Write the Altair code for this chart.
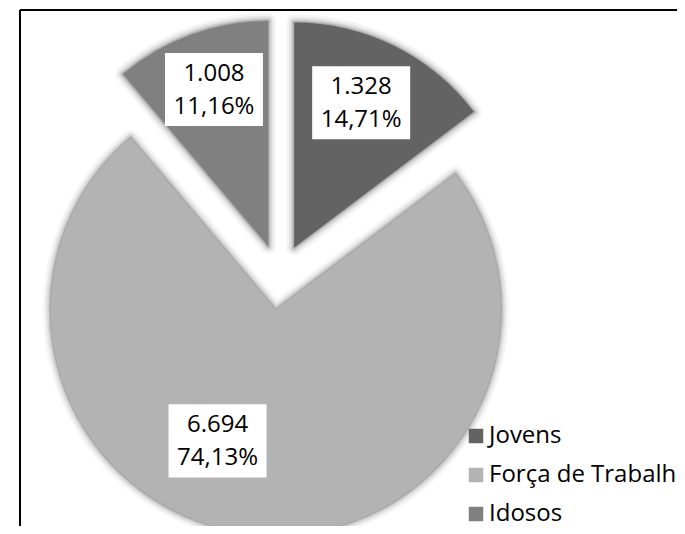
import altair as alt
import pandas as pd

# ---- data ----
categories = ["Jovens", "Força de Trabalho", "Idosos"]
values = [1328, 6694, 1008]
colors = ["#636363", "#b3b3b3", "#808080"]

total = sum(values)


def fmt_int(v):
    return f"{v:,}".replace(",", ".")


def fmt_pct(v):
    return f"{v / total * 100:.2f}".replace(".", ",") + "%"


labels = [f"{fmt_int(v)}\n{fmt_pct(v)}" for v in values]

df = pd.DataFrame({"cat": categories, "value": values,
                   "idx": list(range(len(values))), "label": labels})

# ---- layout / style constants ----
W, H = 657, 516         # plot area (svg = 669 x 518 with padding)
CX, CY = 259.5, 267.0   # pie centre in plot coords
R = 225                 # pie radius
E = 33                  # explosion distance
LD = 152                # label distance from slice apex
F = 0.55                # label angle fraction within slice

base = (
    alt.Chart(df)
    .transform_joinaggregate(total="sum(value)")
    .transform_window(cum="sum(value)", sort=[alt.SortField("idx")], frame=[None, 0])
    .transform_calculate(a0="(datum.cum - datum.value) / datum.total * 2 * PI")
    .transform_calculate(a1="datum.cum / datum.total * 2 * PI")
    .transform_calculate(mid="(datum.a0 + datum.a1) / 2")
    .transform_calculate(lab=f"datum.a0 + {F} * (datum.a1 - datum.a0)")
    .transform_calculate(dx="sin(datum.mid)")
    .transform_calculate(dy="cos(datum.mid)")
    .transform_calculate(lx=f"sin(datum.mid) + {LD / E} * sin(datum.lab)")
    .transform_calculate(ly=f"cos(datum.mid) + {LD / E} * cos(datum.lab)")
)

xs = alt.Scale(domain=[-1, 1], range=[CX - E, CX + E], nice=False, zero=False)
ys = alt.Scale(domain=[-1, 1], range=[CY + E, CY - E], nice=False, zero=False)

pos = dict(
    x=alt.X("dx:Q", scale=xs, axis=None),
    y=alt.Y("dy:Q", scale=ys, axis=None),
    theta=alt.Theta("a0:Q", scale=None),
    theta2=alt.Theta2("a1:Q"),
)

shadows = [
    base.mark_arc(radius=R, fillOpacity=0, stroke="#000", strokeOpacity=op,
                  strokeWidth=w, strokeJoin="round").encode(**pos)
    for w, op in [(16, 0.04), (11, 0.06), (7, 0.08), (4, 0.1), (2, 0.12)]
]

slices = base.mark_arc(radius=R, strokeWidth=0).encode(
    **pos,
    color=alt.Color(
        "cat:N",
        scale=alt.Scale(domain=categories, range=colors),
        sort=categories,
        legend=alt.Legend(
            title=None, orient="none", legendX=444, legendY=414,
            symbolType="square", symbolSize=210, symbolStrokeWidth=0,
            symbolOpacity=1,
            labelFont="Open Sans", labelFontSize=24, labelColor="black",
            rowPadding=15, labelOffset=1, padding=0, labelLimit=500,
        ),
    ),
)

lpos = dict(
    x=alt.X("lx:Q", scale=xs, axis=None),
    y=alt.Y("ly:Q", scale=ys, axis=None),
)

boxes = base.mark_point(
    shape="M-1,-0.745H1V0.745H-1Z", size=98 ** 2, filled=True,
    fill="white", opacity=1, strokeWidth=0, xOffset=-7, yOffset=-12,
).encode(**lpos)

texts = base.mark_text(
    font="Open Sans", fontSize=24, lineBreak="\n", lineHeight=33,
    align="center", baseline="middle", color="black", xOffset=-7, yOffset=-28,
).encode(**lpos, text="label:N")

frame_top = alt.Chart(df).mark_rule(color="black", strokeWidth=2).encode(
    x=alt.value(0), x2=alt.value(W + 20), y=alt.value(0))
frame_left = alt.Chart(df).mark_rule(color="black", strokeWidth=2).encode(
    x=alt.value(0), y=alt.value(0), y2=alt.value(H + 20))

chart = (
    alt.layer(*shadows, slices, boxes, texts, frame_top, frame_left)
    .properties(
        width=W, height=H,
        autosize=alt.AutoSizeParams(type="none"),
        padding={"left": 12, "top": 2, "right": 0, "bottom": 0},
        background="white",
    )
    .configure_view(strokeWidth=0)
)

chart.save("out.html", embed_options={"renderer": "svg", "actions": False})
